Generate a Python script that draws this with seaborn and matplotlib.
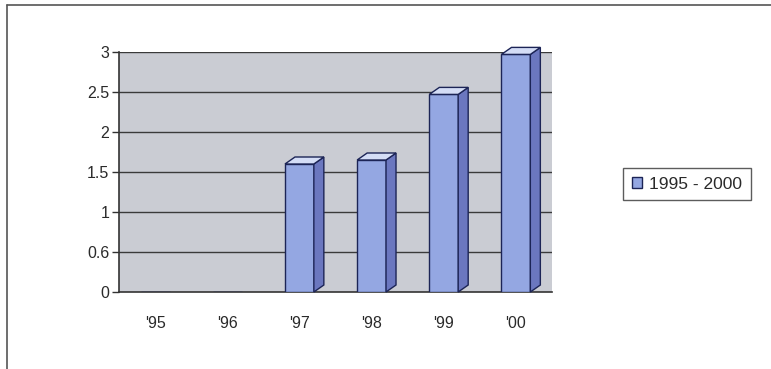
import matplotlib
matplotlib.use("Agg")
import matplotlib.pyplot as plt
import seaborn as sns
import pandas as pd
from matplotlib.patches import Polygon, Patch
from matplotlib.lines import Line2D

categories = ["'95", "'96", "'97", "'98", "'99", "'00"]
values = [0, 0, 1.6, 1.65, 2.47, 2.97]
series_name = "1995 - 2000"
ytick_values = [0, 0.5, 1, 1.5, 2, 2.5, 3]
ytick_labels = ["0", "0.6", "1", "1.5", "2", "2.5", "3"]

sns.set_theme(style="white")
plt.rcParams['font.family'] = ['Liberation Sans', 'DejaVu Sans']

front = "#94a7e2"
side = "#6b77bf"
top = "#d4ddf6"
edge = "#1c2456"
wall = "#caccd3"
txt = "#2a2a2a"

df = pd.DataFrame({"year": categories, "value": values})

fig = plt.figure(figsize=(7.71, 3.69), dpi=100)
ax = fig.add_axes([119/771, 1-292/369, (552-119)/771, (292-52)/369])
ax.set_facecolor(wall)

sns.barplot(data=df, x="year", y="value", color=front, width=0.4,
            saturation=1, edgecolor=edge, linewidth=1.0, ax=ax, zorder=3)

ax.set_ylim(0, 3)
ax.set_xlim(-0.5, 5.5)
for yv in ytick_values[1:]:
    ax.axhline(yv, color="#3a3a3a", lw=1.0, zorder=1)

# 3D depth for each bar (pixel depth converted to data units)
dx = 10 / ((552-119)/6)
dy = 7 / 80
for p in list(ax.patches):
    x0 = p.get_x(); w = p.get_width(); h = p.get_height()
    if h <= 0:
        continue
    x1 = x0 + w
    s = Polygon([(x1, 0), (x1+dx, dy), (x1+dx, h+dy), (x1, h)], closed=True,
                facecolor=side, edgecolor=edge, lw=1.0, zorder=3, clip_on=False)
    t = Polygon([(x0, h), (x0+dx, h+dy), (x1+dx, h+dy), (x1, h)], closed=True,
                facecolor=top, edgecolor=edge, lw=1.0, zorder=3, clip_on=False)
    ax.add_patch(s); ax.add_patch(t)

ax.set_yticks(ytick_values)
ax.set_yticklabels(ytick_labels, fontsize=11.5, color=txt)
ax.set_xticks(range(len(categories)))
ax.set_xticklabels(categories, fontsize=11.5, color=txt)
ax.set_xticks([i + 0.5 for i in range(len(categories))], minor=True)
ax.tick_params(axis="x", which="major", length=0, pad=17)
ax.tick_params(axis="x", which="minor", length=5, direction="out", color="#333333", width=1)
ax.tick_params(axis="y", length=5, direction="out", color="#333333", width=1, pad=2, left=True)
ax.set_xlabel(""); ax.set_ylabel("")
for sp in ["top", "right"]:
    ax.spines[sp].set_visible(False)
for sp in ["left", "bottom"]:
    ax.spines[sp].set_color("#333333")
    ax.spines[sp].set_linewidth(1.2)

handle = Patch(facecolor=front, edgecolor=edge, label=series_name)
leg = fig.legend(handles=[handle], loc="center", bbox_to_anchor=(687/771, 1-184/369),
                 frameon=True, fontsize=12.5, handlelength=0.6, handleheight=0.6,
                 handletextpad=0.4, borderpad=0.5, fancybox=False)
leg.get_frame().set_edgecolor("#333333")
leg.get_frame().set_linewidth(1.0)
for t_ in leg.get_texts():
    t_.set_color(txt)

# outer frame lines (left and top)
fig.add_artist(Line2D([7/771, 7/771], [0, 1-5/369], transform=fig.transFigure, color="#555555", lw=1.2))
fig.add_artist(Line2D([7/771, 1], [1-5/369, 1-5/369], transform=fig.transFigure, color="#555555", lw=1.2))

fig.savefig("out.png", dpi=100, facecolor="white")
